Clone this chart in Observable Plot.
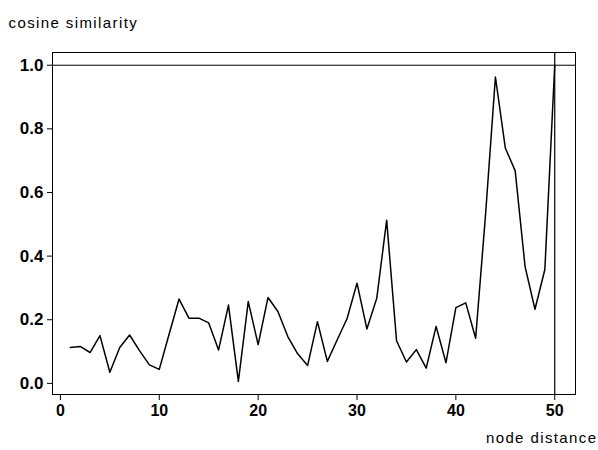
<!DOCTYPE html>
<html>
<head>
<meta charset="utf-8">
<script src="https://cdn.jsdelivr.net/npm/d3@7"></script>
<script src="https://cdn.jsdelivr.net/npm/@observablehq/plot@0.6"></script>
<style>
  html, body { margin: 0; padding: 0; background: #fff; }
  #chart { width: 598px; height: 450px; }
  svg text { font-family: "Liberation Sans", Arial, Helvetica, sans-serif; }
  svg g[aria-label="text"] text { letter-spacing: 1.4px; }
</style>
</head>
<body>
<div id="chart"></div>
<script>
const distance = d3.range(1, 51);
const similarity = [
  0.113, 0.116, 0.097, 0.150, 0.035, 0.113, 0.152, 0.103, 0.058, 0.044,
  0.155, 0.265, 0.205, 0.205, 0.190, 0.105, 0.246, 0.006, 0.257, 0.122,
  0.270, 0.226, 0.147, 0.093, 0.056, 0.194, 0.069, 0.137, 0.204, 0.315,
  0.171, 0.268, 0.513, 0.134, 0.067, 0.106, 0.048, 0.179, 0.065, 0.238,
  0.253, 0.142, 0.530, 0.963, 0.740, 0.668, 0.367, 0.233, 0.358, 1.000
];
const xTicks = [0, 10, 20, 30, 40, 50];
const yTicks = [0, 0.2, 0.4, 0.6, 0.8, 1.0];
const yLabel = "cosine similarity";
const xLabel = "node distance";

const data = distance.map((d, i) => ({x: d, y: similarity[i]}));

const chart = Plot.plot({
  width: 598,
  height: 450,
  marginLeft: 52,
  marginRight: 23,
  marginTop: 52,
  marginBottom: 56,
  style: {background: "#fff", color: "#000", fontFamily: "Liberation Sans, Arial, sans-serif"},
  x: {domain: [-0.8, 52.1], ticks: xTicks, tickFormat: d3.format("d"), label: null},
  y: {domain: [-0.035, 1.04], ticks: yTicks, tickFormat: d3.format(".1f"), label: null},
  marks: [
    Plot.frame({stroke: "#000", strokeWidth: 1}),
    Plot.axisX({ticks: xTicks, tickFormat: d3.format("d"), tickSize: 6, tickPadding: 4, fontSize: 16, fontWeight: "bold", label: null}),
    Plot.axisY({ticks: yTicks, tickFormat: d3.format(".1f"), tickSize: 5, tickPadding: 4, fontSize: 17, fontWeight: "bold", label: null}),
    Plot.ruleY([1.0], {stroke: "#000", strokeWidth: 1}),
    Plot.ruleX([50], {stroke: "#000", strokeWidth: 1.2}),
    Plot.line(data, {x: "x", y: "y", stroke: "#000", strokeWidth: 1.5}),
    Plot.text([yLabel], {text: d => d, frameAnchor: "top-left", dx: -44, dy: -35, textAnchor: "start", fontSize: 15}),
    Plot.text([xLabel], {text: d => d, frameAnchor: "bottom-right", dx: 22, dy: 48, textAnchor: "end", fontSize: 15})
  ]
});
document.getElementById("chart").appendChild(chart);
</script>
</body>
</html>
